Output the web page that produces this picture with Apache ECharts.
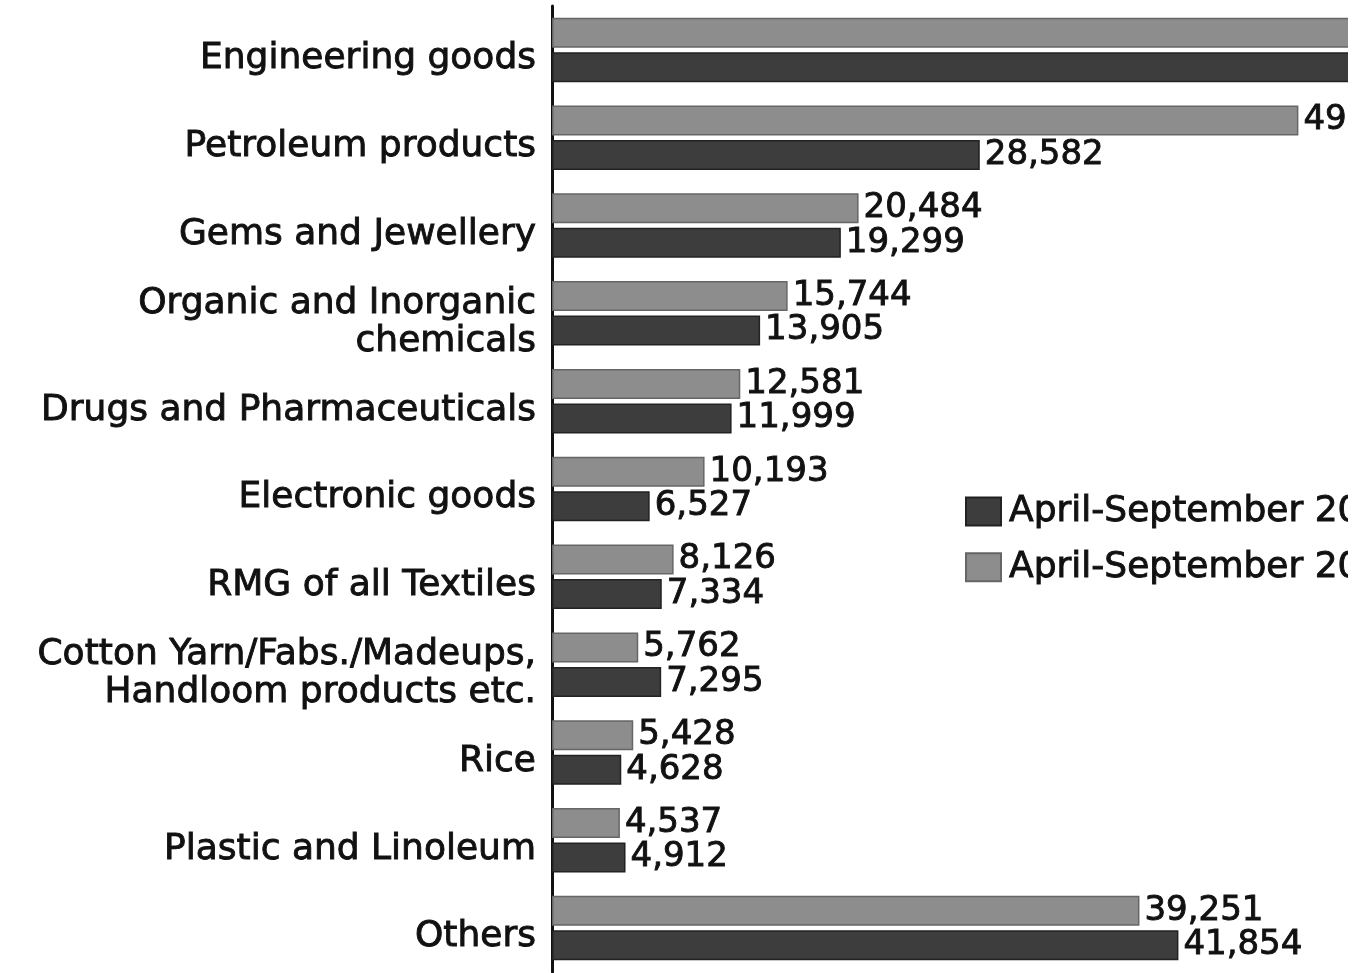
<!DOCTYPE html>
<html>
<head>
<meta charset="utf-8">
<script src="https://cdn.jsdelivr.net/npm/echarts@6/dist/echarts.min.js"></script>
<style>
html,body{margin:0;padding:0;background:#fff;overflow:hidden;}
#chart{width:1348px;height:973px;}
</style>
</head>
<body>
<div id="chart"></div>
<script>
// Categories from top to bottom
const categories = [
  "Engineering goods",
  "Petroleum products",
  "Gems and Jewellery",
  "Organic and Inorganic\nchemicals",
  "Drugs and Pharmaceuticals",
  "Electronic goods",
  "RMG of all Textiles",
  "Cotton Yarn/Fabs./Madeups,\nHandloom products etc.",
  "Rice",
  "Plastic and Linoleum",
  "Others"
];
const seriesDarkName = "April-September 2021";
const seriesLightName = "April-September 2022";
// values (estimated where clipped)
const darkValues  = [54000, 28582, 19299, 13905, 11999, 6527, 7334, 7295, 4628, 4912, 41854];
const lightValues = [54500, 49870, 20484, 15744, 12581, 10193, 8126, 5762, 5428, 4537, 39251];

const fmt = v => v.toLocaleString('en-US');
const FONT = "DejaVu Sans";
const INK = '#111';

const chart = echarts.init(document.getElementById('chart'), null, {renderer: 'canvas'});
const labelCfg = {
  show: true,
  position: 'right',
  distance: 5,
  color: INK,
  fontFamily: FONT,
  fontSize: 34,
  textBorderColor: INK,
  textBorderWidth: 0.9,
  formatter: p => fmt(p.value)
};
const lineStyleRich = {fontFamily: FONT, fontSize: 36, color: INK, textBorderColor: INK, textBorderWidth: 0.9, lineHeight: 38, align: 'right'};
chart.setOption({
  animation: false,
  backgroundColor: '#ffffff',
  textStyle: {fontFamily: FONT},
  grid: {left: 552, top: 6, bottom: 1, right: -102, containLabel: false, outerBoundsMode: 'none'},
  legend: {
    orient: 'vertical',
    left: 960,
    top: 488,
    itemWidth: 35,
    itemHeight: 28,
    itemGap: 19,
    data: [seriesDarkName, seriesLightName],
    textStyle: {fontFamily: FONT, fontSize: 36, color: INK, textBorderColor: INK, textBorderWidth: 0.9, padding: [0,0,0,3]},
    icon: 'rect'
  },
  xAxis: {
    type: 'value',
    min: 0,
    max: 60000,
    show: false,
    splitLine: {show: false}
  },
  yAxis: {
    type: 'category',
    inverse: true,
    data: categories,
    axisLine: {show: true, lineStyle: {color: INK, width: 3}},
    axisTick: {show: false},
    axisLabel: {
      fontFamily: FONT,
      fontSize: 36,
      color: INK,
      margin: 16,
      align: 'right',
      formatter: v => '{s| }\n' + v.split('\n').map(l => '{a|' + l + '}').join('\n'),
      rich: {
        s: {fontSize: 2, lineHeight: 18},
        a: lineStyleRich
      }
    }
  },
  series: [
    {
      name: seriesLightName,
      type: 'bar',
      data: lightValues,
      barWidth: 30,
      barGap: '15%',
      itemStyle: {color: '#8d8d8d', borderColor: '#666', borderWidth: 1.5},
      label: labelCfg
    },
    {
      name: seriesDarkName,
      type: 'bar',
      data: darkValues,
      barWidth: 30,
      itemStyle: {color: '#3d3d3d', borderColor: '#222', borderWidth: 1.5},
      label: labelCfg
    }
  ]
});
</script>
</body>
</html>
